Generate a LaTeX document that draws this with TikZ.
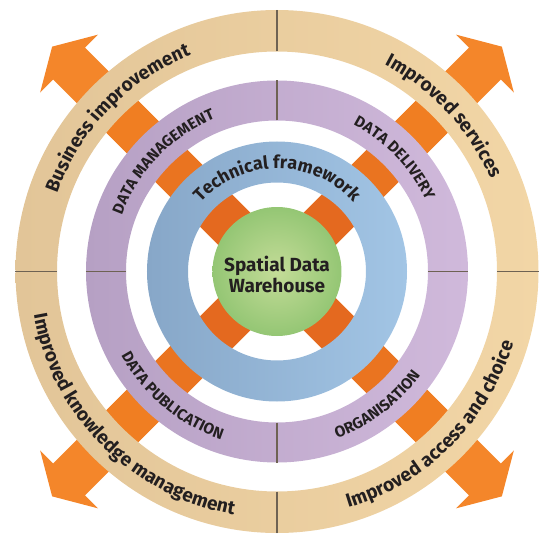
\documentclass[tikz,border=0pt]{standalone}
\usepackage{fontspec}
\setmainfont{Fira Sans}
\usetikzlibrary{decorations.text}

\definecolor{tanL}{HTML}{E2C598}
\definecolor{tanR}{HTML}{F2D6A6}
\definecolor{purpL}{HTML}{B6A0C4}
\definecolor{purpR}{HTML}{D0B9DB}
\definecolor{blueL}{HTML}{87A7C8}
\definecolor{blueR}{HTML}{A2C5E5}
\definecolor{greenI}{HTML}{C4DC98}
\definecolor{greenO}{HTML}{94C674}
\definecolor{orangeA}{HTML}{E4691F}
\definecolor{orangeB}{HTML}{EA7420}
\definecolor{orangeC}{HTML}{F07E22}
\definecolor{orangeD}{HTML}{F4862A}
\definecolor{ink}{HTML}{231F20}
\definecolor{divider}{HTML}{6E6253}

\newcommand{\ringfont}{\fontsize{19}{19}\selectfont\bfseries}
\newcommand{\techfont}{\fontsize{18}{18}\selectfont\bfseries}
\newcommand{\capfont}{\fontsize{15.5}{15.5}\selectfont\bfseries}
\newcommand{\centrefont}{\fontsize{19}{21.5}\selectfont\bfseries}

\begin{document}
\begin{tikzpicture}[x=1pt,y=1pt,
  ring/.style={even odd rule},
  split/.style={divider, line width=1.2pt},
  arclabel/.style={decorate, decoration={text along path, text align=center, text color=ink, text={#1}}}]
\useasboundingbox (-277,-261.5) rectangle (264,271.5);

% orange arrows, behind the rings
\foreach \a in {45,135,225,315}{
  \begin{scope}[rotate=\a]
    \fill[orangeD] (0,-22.5) -- (294,-22.5) -- (294,-41) -- (318,0) -- (294,41) -- (294,22.5) -- (0,22.5) -- cycle;
    \fill[orangeC] (0,-22.5) rectangle (240,22.5);
    \fill[orangeB] (0,-22.5) rectangle (170,22.5);
    \fill[orangeA] (0,-22.5) rectangle (110,22.5);
  \end{scope}
}

% rings
\shade[ring, left color=tanL, right color=tanR] (0,0) circle (261.5) circle (220);
\shade[ring, left color=purpL, right color=purpR] (0,0) circle (191) circle (151);
\shade[ring, left color=blueL, right color=blueR] (0,0) circle (130) circle (89);
\shade[inner color=greenI, outer color=greenO] (0,0) circle (64.5);

\foreach \a in {0,90,180,270}{
  \draw[split] (\a:220) -- (\a:261.5);
  \draw[split] (\a:151) -- (\a:191);
}

% outer ring
\path[arclabel={|\ringfont|Business improvement}] (171:233) arc[start angle=171, end angle=101, radius=233];
\path[arclabel={|\ringfont|Improved services}] (78:233) arc[start angle=78, end angle=8, radius=233];
\path[arclabel={|\ringfont|Improved knowledge management}] (170:247) arc[start angle=170, end angle=280, radius=247];
\path[arclabel={|\ringfont|Improved access and choice}] (260:247) arc[start angle=260, end angle=370, radius=247];

% middle ring
\path[arclabel={|\capfont|DATA MANAGEMENT}] (176:165) arc[start angle=176, end angle=96, radius=165];
\path[arclabel={|\capfont|DATA DELIVERY}] (84:165) arc[start angle=84, end angle=4, radius=165];
\path[arclabel={|\capfont|DATA PUBLICATION}] (185:177) arc[start angle=185, end angle=275, radius=177];
\path[arclabel={|\capfont|ORGANISATION}] (262:177) arc[start angle=262, end angle=352, radius=177];

% inner ring
\path[arclabel={|\techfont|Technical framework}] (160:103) arc[start angle=160, end angle=20, radius=103];

\node[font=\centrefont, text=ink, align=center] (sdw) at (0,-3) {Spatial Data\\Warehouse};
\end{tikzpicture}
\end{document}
